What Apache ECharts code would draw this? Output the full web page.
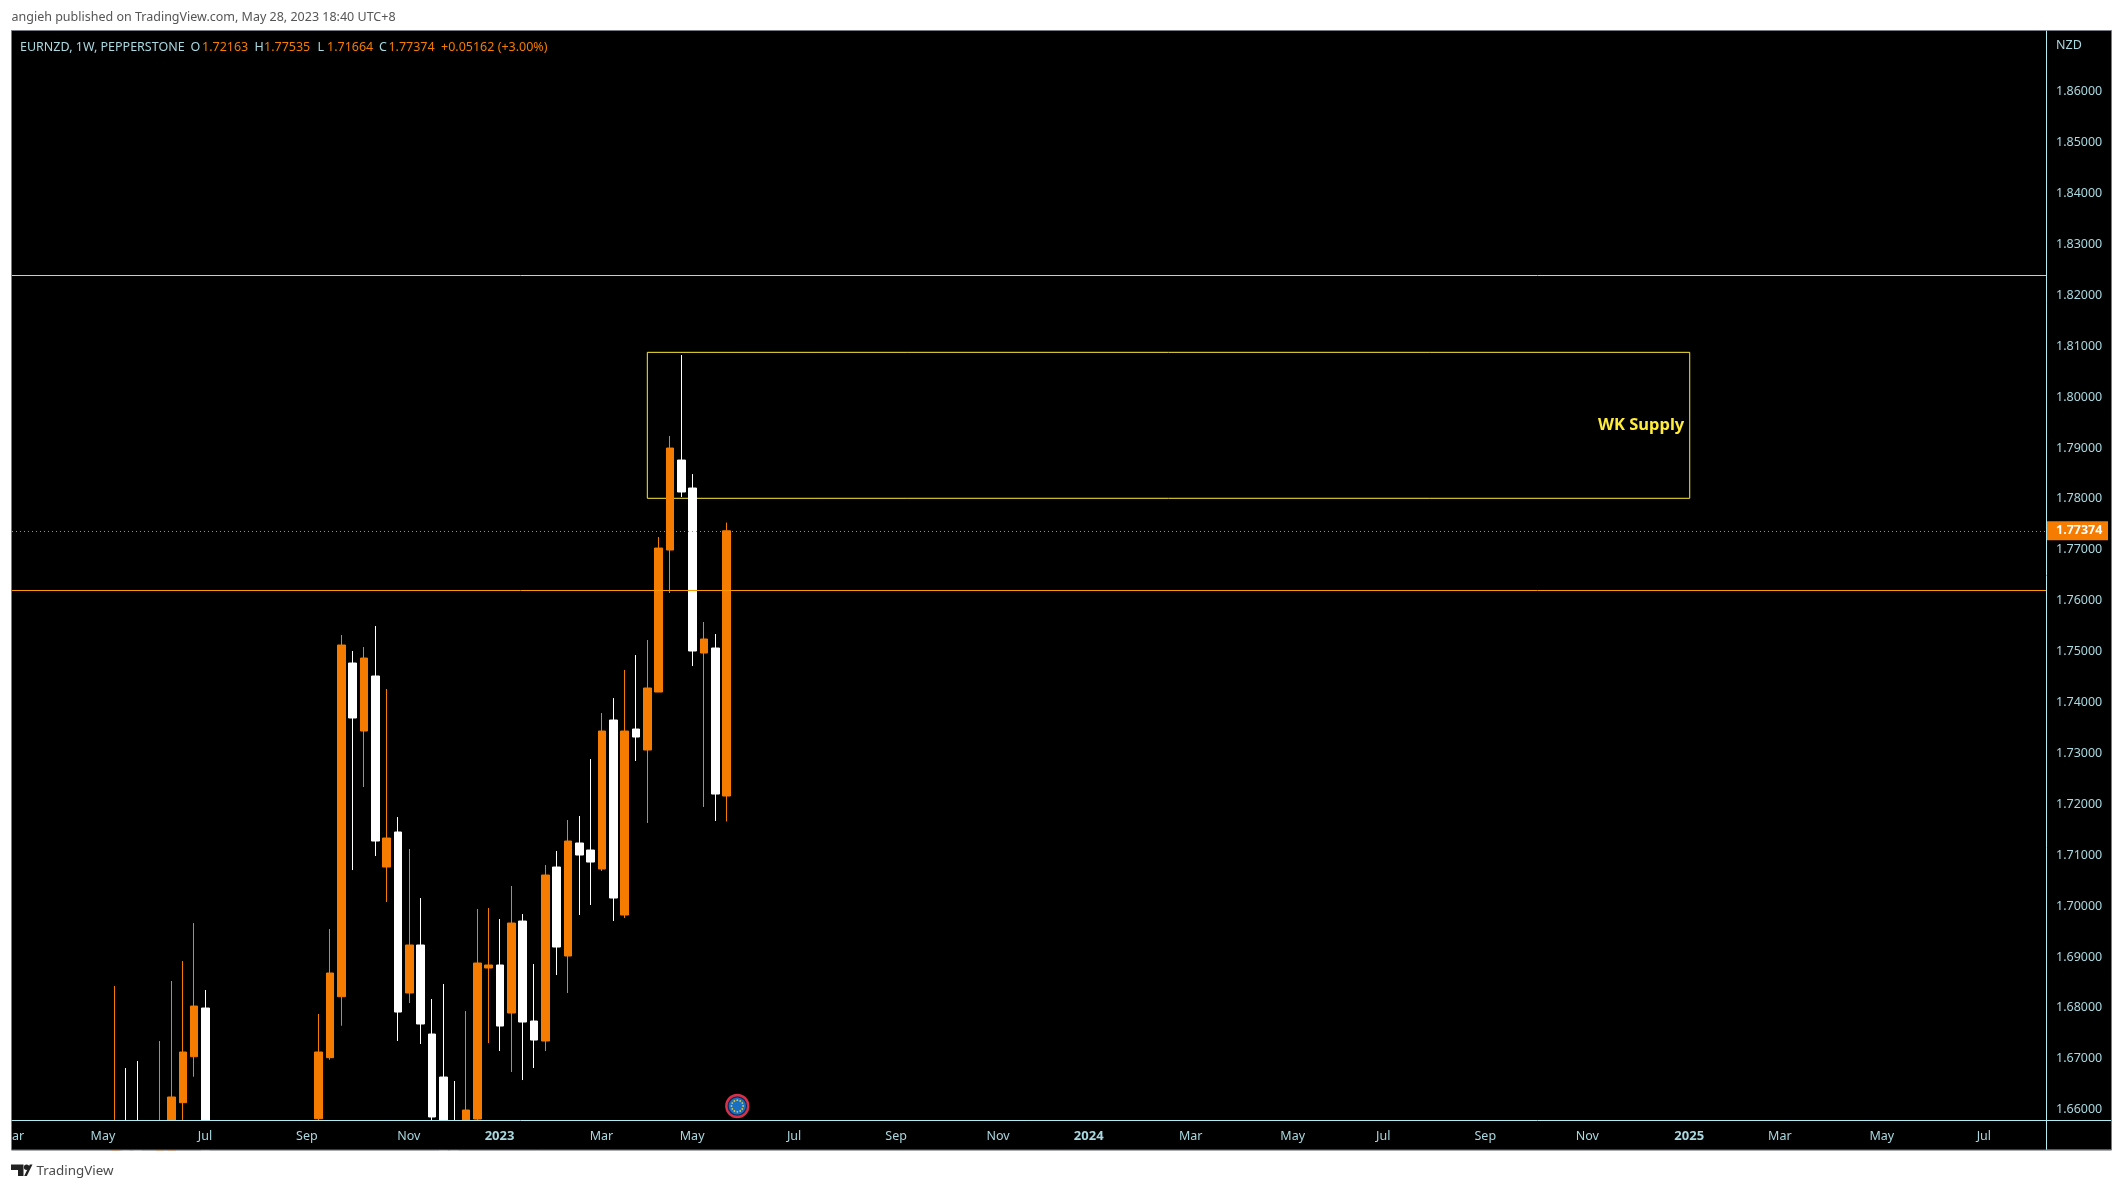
<!DOCTYPE html>
<html><head><meta charset="utf-8">
<style>html,body{margin:0;padding:0;background:#fff}#c{width:2123px;height:1190px}</style>
<script src="https://cdn.jsdelivr.net/npm/echarts@6/dist/echarts.min.js"></script>
</head><body><div id="c"></div>
<script>
const weekDates=['2022-05-09','2022-05-16','2022-05-23','2022-06-06','2022-06-13','2022-06-20','2022-06-27','2022-07-04',
'2022-09-12','2022-09-19','2022-09-26','2022-10-03','2022-10-10','2022-10-17','2022-10-24','2022-10-31','2022-11-07','2022-11-14','2022-11-21','2022-11-28','2022-12-05','2022-12-12','2022-12-19','2022-12-26',
'2023-01-02','2023-01-09','2023-01-16','2023-01-23','2023-01-30','2023-02-06','2023-02-13','2023-02-20','2023-02-27','2023-03-06','2023-03-13','2023-03-20','2023-03-27','2023-04-03','2023-04-10','2023-04-17','2023-04-24','2023-05-01','2023-05-08','2023-05-15','2023-05-22'];
const opens=[1.650,1.657,1.657,1.650,1.650,1.66138,1.67041,1.67998,
1.65823,1.67022,1.68220,1.74776,1.73440,1.74521,1.70768,1.71456,1.68293,1.69236,1.67487,1.66642,1.657,1.654,1.65817,1.68784,
1.68843,1.67900,1.69707,1.67743,1.67350,1.70768,1.69020,1.71240,1.71102,1.70729,1.73656,1.69825,1.73479,1.73067,1.74206,1.76996,1.78764,1.78214,1.74972,1.75071,1.72163];
const closes=[1.655,1.652,1.652,1.655,1.66250,1.67134,1.68037,1.652,
1.67134,1.68686,1.75130,1.73696,1.74874,1.71279,1.71338,1.67919,1.69236,1.67684,1.65857,1.652,1.652,1.65994,1.68882,1.68843,
1.67644,1.69668,1.67723,1.67369,1.70611,1.69196,1.71279,1.71004,1.70866,1.73440,1.70159,1.73440,1.73322,1.74285,1.77035,1.79000,1.78136,1.75012,1.75248,1.72202,1.77374];
const lows=[1.648,1.650,1.650,1.648,1.648,1.655,1.66648,1.650,
1.65770,1.66982,1.67650,1.70709,1.72340,1.70984,1.70081,1.67350,1.68096,1.67291,1.655,1.650,1.650,1.652,1.65770,1.67310,
1.67153,1.66741,1.66583,1.66819,1.67153,1.68646,1.68293,1.69825,1.70022,1.70690,1.69707,1.69766,1.72851,1.71633,1.74206,1.76151,1.78037,1.74717,1.71947,1.71672,1.71664];
const highs=[1.68430,1.66819,1.66957,1.67350,1.68528,1.68921,1.69668,1.68352,
1.67880,1.69550,1.75326,1.75012,1.75090,1.75503,1.74265,1.71750,1.71122,1.70159,1.68175,1.68470,1.66564,1.67939,1.69943,1.69963,
1.69747,1.70395,1.69845,1.68862,1.70807,1.71083,1.71692,1.71770,1.72890,1.73794,1.74088,1.74639,1.74933,1.75228,1.77251,1.79236,1.80827,1.78489,1.75582,1.75346,1.77535];
const xTickDates=['2022-03-07','2022-05-02','2022-07-04','2022-09-05','2022-11-07','2023-01-02','2023-03-06','2023-05-01','2023-07-03','2023-09-04','2023-11-06','2024-01-01','2024-03-04','2024-05-06','2024-07-01','2024-09-02','2024-11-04','2025-01-06','2025-03-03','2025-05-05','2025-07-07'];
const xTickLabels=['Mar','May','Jul','Sep','Nov','2023','Mar','May','Jul','Sep','Nov','2024','Mar','May','Jul','Sep','Nov','2025','Mar','May','Jul'];
const yTickValues=[1.66,1.67,1.68,1.69,1.70,1.71,1.72,1.73,1.74,1.75,1.76,1.77,1.78,1.79,1.80,1.81,1.82,1.83,1.84,1.85,1.86];
const xRange=['2022-03-06T12:00:00Z','2025-08-14T02:30:00Z'];
const supplyZone={from:'2023-04-03',to:'2025-01-06',top:1.80880,bottom:1.78012,label:'WK Supply'};
const levelUpper=1.82393, levelLower=1.76204, lastClose=1.77374;
const legendParts=[['EURNZD, 1W, PEPPERSTONE',20,'l'],['O',190.6,'l'],['1.72163',202,'v'],['H',254.5,'l'],['1.77535',264,'v'],['L',317.6,'l'],['1.71664',327,'v'],['C',379,'l'],['1.77374',388.4,'v'],['+0.05162 (+3.00%)',441,'v']];

const FONT='"Noto Sans", sans-serif';
const ORANGE='#f57c00', WHITE='#ffffff', CYAN='#a8d8e0', AXIS='#b2ebf2', FRAME='#787b86';
const ms=s=>new Date(s.length===10?s+'T00:00:00Z':s).getTime();
const labelByTime={};
xTickDates.forEach((d,i)=>labelByTime[ms(d)]=xTickLabels[i]);

const chart=echarts.init(document.getElementById('c'),null,{renderer:'canvas',width:2123,height:1190});
const gfx=[
 {type:'rect',z:-10,silent:true,shape:{x:11.5,y:30.5,width:2100,height:1119.5},style:{fill:'#000',stroke:FRAME,lineWidth:1}},
 // masks: candlesticks are not clipped by the library at the plot's lower edge
 {type:'rect',z:5,silent:true,shape:{x:12,y:1121,width:2034,height:29},style:{fill:'#000'}},
 {type:'rect',z:5,silent:true,shape:{x:0,y:1150.5,width:2123,height:40},style:{fill:'#fff'}},
 {type:'rect',z:50,silent:true,shape:{x:0,y:1121,width:11,height:30},style:{fill:'#fff'}},
 {type:'line',z:51,silent:true,shape:{x1:11.5,y1:1121,x2:11.5,y2:1150},style:{stroke:FRAME,lineWidth:1}},
 {type:'line',z:51,silent:true,shape:{x1:11.5,y1:1150,x2:2111.5,y2:1150},style:{stroke:FRAME,lineWidth:1}},
 {type:'text',z:10,left:11.5,top:11,style:{text:'angieh published on TradingView.com, May 28, 2023 18:40 UTC+8',fill:'#555',font:'12.5px '+FONT}},
 {type:'text',z:10,left:2056,top:39,style:{text:'NZD',fill:CYAN,font:'12.5px '+FONT}},
 {type:'line',z:10,silent:true,shape:{x1:2046.5,y1:1120,x2:2046.5,y2:1150},style:{stroke:AXIS,lineWidth:1}},
 {type:'line',z:10,silent:true,shape:{x1:2046,y1:1120.5,x2:2111,y2:1120.5},style:{stroke:AXIS,lineWidth:1}},
 {type:'text',z:10,left:36.5,top:1165,style:{text:'TradingView',fill:'#4a4a4a',font:'13.4px '+FONT}},
 {type:'polygon',z:10,silent:true,shape:{points:[[11,1164.5],[23.5,1164.5],[23.5,1176],[18,1176],[18,1170],[11,1170]]},style:{fill:'#222'}},
 {type:'circle',z:10,silent:true,shape:{cx:26.6,cy:1167.3,r:2.7},style:{fill:'#222'}},
 {type:'polygon',z:10,silent:true,shape:{points:[[26.8,1176],[32.5,1164.5],[29.8,1164.5],[24.2,1176]]},style:{fill:'#222'}},
 {type:'circle',z:10,silent:true,shape:{cx:737.3,cy:1106,r:11},style:{fill:'#0d2f5e',stroke:'#d9304a',lineWidth:2.4}},
 {type:'circle',z:11,silent:true,shape:{cx:737.3,cy:1106,r:8.6},style:{fill:'#1a6fc0'}}
];
legendParts.forEach(p=>gfx.push({type:'text',z:10,left:p[1],top:41,style:{text:p[0],fill:p[2]==='l'?CYAN:ORANGE,font:'12.5px '+FONT}}));
for(let k=0;k<12;k++){const a=k*Math.PI/6;gfx.push({type:'circle',z:12,silent:true,shape:{cx:737.3+5.8*Math.cos(a),cy:1106+5.8*Math.sin(a),r:0.9},style:{fill:'#d8c84a'}});}

chart.setOption({
 animation:false,
 backgroundColor:'transparent',
 grid:{left:12,right:77,top:31,bottom:70,containLabel:false,outerBoundsMode:'none'},
 graphic:gfx,
 xAxis:{type:'value',z:10,min:ms(xRange[0]),max:ms(xRange[1]),scale:true,
  axisLine:{onZero:false,lineStyle:{color:AXIS,width:1}},axisTick:{show:false},splitLine:{show:false},
  axisLabel:{customValues:xTickDates.map(ms),color:CYAN,fontFamily:FONT,fontSize:12.5,margin:10,hideOverlap:false,padding:[0,1,0,0],
   formatter:v=>{const t=labelByTime[v]||'';return /^20/.test(t)?'{b|'+t+'}':t;},
   rich:{b:{fontWeight:'bold',fontSize:13,color:CYAN,fontFamily:FONT}}}},
 yAxis:{type:'value',z:10,position:'right',min:1.65798,max:1.87193,scale:true,
  axisLine:{show:true,lineStyle:{color:AXIS,width:1}},axisTick:{show:false},splitLine:{show:false},
  axisLabel:{customValues:yTickValues,color:CYAN,fontFamily:FONT,fontSize:12.5,margin:10,padding:[5,0,0,0],formatter:v=>v.toFixed(5)}},
 series:[{type:'candlestick',barWidth:8,clip:true,
  itemStyle:{color:ORANGE,color0:WHITE,borderColor:ORANGE,borderColor0:WHITE,borderWidth:1},
  data:weekDates.map((d,i)=>[ms(d),opens[i],closes[i],lows[i],highs[i]]),
  markLine:{silent:true,symbol:'none',animation:false,precision:5,data:[
    {yAxis:levelUpper,lineStyle:{color:'#f5c86a',width:1,type:'solid'},label:{show:false}},
    {yAxis:levelLower,lineStyle:{color:'#ff9800',width:1,type:'solid'},label:{show:false}},
    {yAxis:lastClose,lineStyle:{color:ORANGE,width:1,type:[1,3]},
     label:{show:true,position:'end',distance:0,formatter:lastClose.toFixed(5),color:'#fff',fontFamily:FONT,fontWeight:'bold',fontSize:12.5,backgroundColor:ORANGE,padding:[3,8,3,10],width:44,align:'left'}}
  ]},
  markArea:{silent:true,itemStyle:{color:'rgba(0,0,0,0)',borderColor:'#ffeb3b',borderWidth:1},
   label:{show:true,position:'insideRight',distance:6,formatter:supplyZone.label,color:'#ffeb3b',fontFamily:FONT,fontWeight:'bold',fontSize:16.5},
   data:[[{xAxis:ms(supplyZone.from),yAxis:supplyZone.top},{xAxis:ms(supplyZone.to),yAxis:supplyZone.bottom}]]}
 }]
});
</script></body></html>
